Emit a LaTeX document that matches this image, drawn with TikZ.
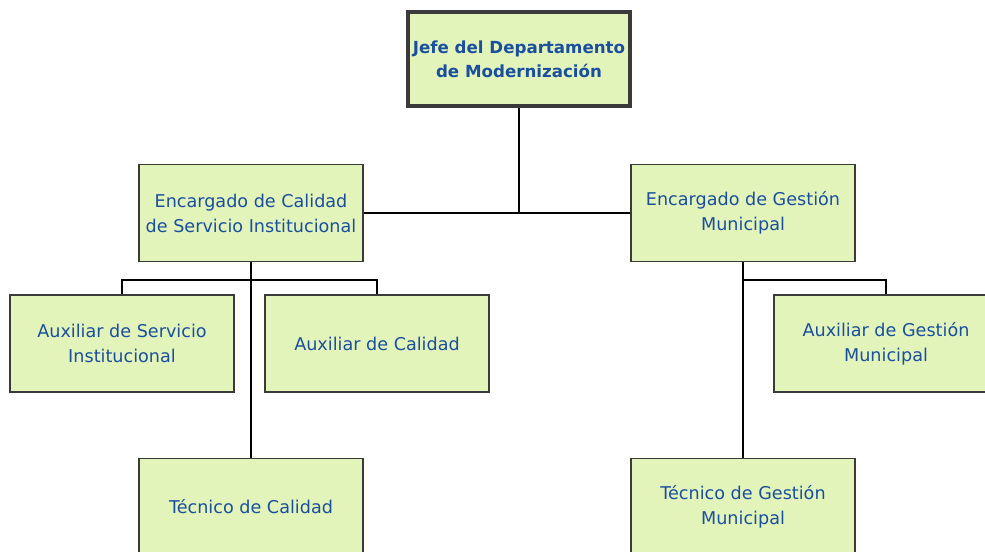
\documentclass[tikz,border=0pt]{standalone}
\usepackage{fontspec}
\setmainfont{DejaVu Sans}
\definecolor{boxfill}{HTML}{E2F4BA}
\definecolor{boxline}{HTML}{3A3A3A}
\definecolor{txt}{HTML}{1A4F9F}
\begin{document}
\begin{tikzpicture}[x=0.75pt,y=-0.75pt,
  box/.style={draw=boxline,fill=boxfill,line width=1.1pt,minimum width=168pt,minimum height=73pt,
    align=center,text=txt,font=\fontsize{13.2}{18.75}\selectfont,inner sep=0pt},
  topbox/.style={box,line width=3pt,minimum width=167pt,minimum height=71pt,font=\fontsize{12.5}{18}\selectfont\bfseries},
  conn/.style={draw=black,line width=1.3pt}]
\useasboundingbox (0,0) rectangle (985,552);
\clip (0,0) rectangle (985,552);
\node[topbox] (jefe) at (519,59) {Jefe del Departamento\\de Modernización};
\node[box] (ecal) at (251,213) {Encargado de Calidad\\de Servicio Institucional};
\node[box] (eges) at (743,213) {Encargado de Gestión\\Municipal};
\node[box] (aux1) at (122,343.5) {Auxiliar de Servicio\\Institucional};
\node[box] (aux2) at (377,343.5) {Auxiliar de Calidad};
\node[box] (aux3) at (886,343.5) {Auxiliar de Gestión\\Municipal};
\node[box] (tec1) at (251,507) {Técnico de Calidad};
\node[box] (tec2) at (743,507) {Técnico de Gestión\\Municipal};
\coordinate (mid) at (519,213);
\coordinate (bl) at (251,280);
\coordinate (br) at (743,280);
\draw[conn] (jefe.south) -- (mid);
\draw[conn] (ecal.east) -- (eges.west);
\draw[conn] (ecal.south) -- (tec1.north);
\draw[conn] (eges.south) -- (tec2.north);
\draw[conn] (aux1.north) |- (bl) -| (aux2.north);
\draw[conn] (br) -| (aux3.north);
\end{tikzpicture}
\end{document}
